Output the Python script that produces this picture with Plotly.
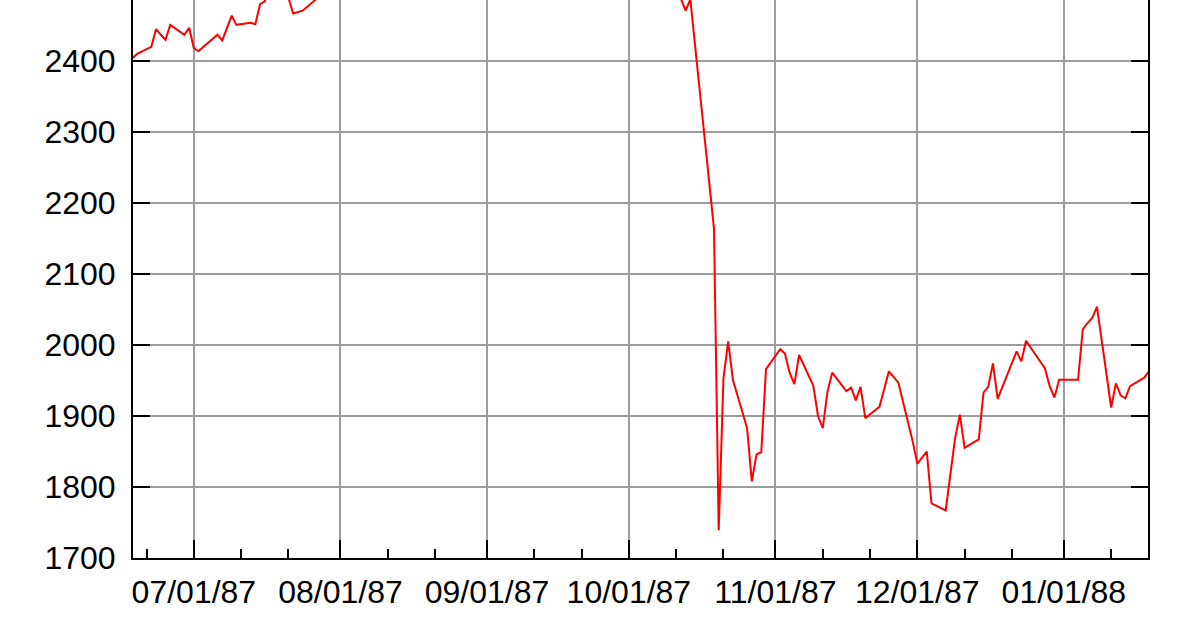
import plotly.graph_objects as go

# ---- data (DJIA daily values) ----
dates = [
    "1987-06-18", "1987-06-19", "1987-06-22", "1987-06-23", "1987-06-24", "1987-06-25",
    "1987-06-26", "1987-06-29", "1987-06-30",
    "1987-07-01", "1987-07-02", "1987-07-06", "1987-07-07", "1987-07-08", "1987-07-09",
    "1987-07-10", "1987-07-13", "1987-07-14", "1987-07-15", "1987-07-16", "1987-07-17",
    "1987-07-20", "1987-07-21", "1987-07-22", "1987-07-23", "1987-07-24", "1987-07-27",
    "1987-07-28", "1987-07-29", "1987-07-30", "1987-07-31",
    "1987-08-03", "1987-08-04", "1987-08-05", "1987-08-06", "1987-08-07", "1987-08-10",
    "1987-08-11", "1987-08-12", "1987-08-13", "1987-08-14", "1987-08-17", "1987-08-18",
    "1987-08-19", "1987-08-20", "1987-08-21", "1987-08-24", "1987-08-25", "1987-08-26",
    "1987-08-27", "1987-08-28", "1987-08-31",
    "1987-09-01", "1987-09-02", "1987-09-03", "1987-09-04", "1987-09-08", "1987-09-09",
    "1987-09-10", "1987-09-11", "1987-09-14", "1987-09-15", "1987-09-16", "1987-09-17",
    "1987-09-18", "1987-09-21", "1987-09-22", "1987-09-23", "1987-09-24", "1987-09-25",
    "1987-09-28", "1987-09-29", "1987-09-30",
    "1987-10-01", "1987-10-02", "1987-10-05", "1987-10-06", "1987-10-07", "1987-10-08",
    "1987-10-09", "1987-10-12", "1987-10-13", "1987-10-14", "1987-10-15", "1987-10-16",
    "1987-10-19", "1987-10-20", "1987-10-21", "1987-10-22", "1987-10-23", "1987-10-26",
    "1987-10-27", "1987-10-28", "1987-10-29", "1987-10-30",
    "1987-11-02", "1987-11-03", "1987-11-04", "1987-11-05", "1987-11-06", "1987-11-09",
    "1987-11-10", "1987-11-11", "1987-11-12", "1987-11-13", "1987-11-16", "1987-11-17",
    "1987-11-18", "1987-11-19", "1987-11-20", "1987-11-23", "1987-11-24", "1987-11-25",
    "1987-11-27", "1987-11-30",
    "1987-12-01", "1987-12-02", "1987-12-03", "1987-12-04", "1987-12-07", "1987-12-08",
    "1987-12-09", "1987-12-10", "1987-12-11", "1987-12-14", "1987-12-15", "1987-12-16",
    "1987-12-17", "1987-12-18", "1987-12-21", "1987-12-22", "1987-12-23", "1987-12-24",
    "1987-12-28", "1987-12-29", "1987-12-30", "1987-12-31",
    "1988-01-04", "1988-01-05", "1988-01-06", "1988-01-07", "1988-01-08", "1988-01-11",
    "1988-01-12", "1988-01-13", "1988-01-14", "1988-01-15", "1988-01-18", "1988-01-19",
]
djia = [
    2404, 2410, 2420, 2445, 2437, 2430,
    2451, 2437, 2447,
    2418, 2414, 2437, 2429, 2446, 2464,
    2451, 2454, 2452, 2480, 2484, 2510,
    2500, 2489, 2467, 2469, 2471, 2488,
    2520, 2540, 2567, 2572,
    2557, 2546, 2566, 2594, 2592, 2635,
    2680, 2669, 2691, 2685, 2700, 2654,
    2665, 2706, 2710, 2697, 2722, 2701,
    2676, 2639, 2663,
    2610, 2602, 2599, 2561, 2545, 2549,
    2576, 2608, 2613, 2566, 2530, 2527,
    2524, 2493, 2568, 2585, 2566, 2570,
    2601, 2590, 2596,
    2639, 2641, 2640, 2549, 2552, 2517,
    2520, 2488, 2471, 2487, 2422, 2358,
    2164, 1739, 1953, 2005, 1951, 1883,
    1808, 1846, 1849, 1966,
    1994, 1988, 1961, 1945, 1986, 1943,
    1900, 1883, 1934, 1961, 1935, 1940,
    1922, 1941, 1897, 1913, 1938, 1963,
    1947, 1865,
    1833, 1841, 1850, 1777, 1767, 1818,
    1869, 1902, 1855, 1867, 1933, 1941,
    1974, 1924, 1975, 1991, 1977, 2006,
    1967, 1942, 1926, 1951,
    1951, 2022, 2031, 2038, 2054, 1912,
    1946, 1929, 1925, 1942, 1954, 1963,
]

month_ticks = ["1987-07-01", "1987-08-01", "1987-09-01", "1987-10-01",
               "1987-11-01", "1987-12-01", "1988-01-01"]
month_labels = ["07/01/87", "08/01/87", "09/01/87", "10/01/87",
                "11/01/87", "12/01/87", "01/01/88"]
minor_ticks = ["1987-06-21", "1987-07-11", "1987-07-21", "1987-08-11", "1987-08-21",
               "1987-09-11", "1987-09-21", "1987-10-11", "1987-10-21", "1987-11-11",
               "1987-11-21", "1987-12-11", "1987-12-21", "1988-01-11"]
y_ticks = [1700, 1800, 1900, 2000, 2100, 2200, 2300, 2400]
y_labels = ["1700", "1800", "1900", "2000", "2100", "2200", "2300", "2400"]

x_range = ["1987-06-18 03:00", "1988-01-18 19:00"]
y_range = [1700, 2486]

fig = go.Figure()
fig.add_trace(go.Scatter(
    x=dates, y=djia, mode="lines",
    line=dict(color="#ff0000", width=2),
    hoverinfo="x+y",
))

fig.update_layout(
    width=1200, height=630,
    margin=dict(l=133, r=52, t=0, b=72, pad=0),
    paper_bgcolor="white", plot_bgcolor="white",
    showlegend=False,
    font=dict(family="Liberation Sans, Arial, sans-serif", size=32, color="black"),
)

fig.update_xaxes(
    type="date", range=x_range, automargin=False,
    tickmode="array", tickvals=month_ticks, ticktext=month_labels,
    ticks="inside", ticklen=18, tickwidth=2, tickcolor="black",
    ticklabelstandoff=5,
    showgrid=True, gridcolor="#9c9c9c", gridwidth=2,
    showline=True, linecolor="black", linewidth=2, mirror=False,
    zeroline=False,
    minor=dict(tickvals=minor_ticks, ticks="inside", ticklen=9, tickwidth=2,
               tickcolor="black", showgrid=False),
)
fig.update_yaxes(
    range=y_range, automargin=False,
    tickmode="array", tickvals=y_ticks, ticktext=y_labels,
    ticks="inside", ticklen=17, tickwidth=2, tickcolor="black",
    ticklabelstandoff=9,
    showgrid=True, gridcolor="#9c9c9c", gridwidth=2,
    showline=True, linecolor="black", linewidth=2, mirror="ticks",
    zeroline=False,
)

fig.write_html("out.html", config={"displayModeBar": False},
               post_script="document.body.style.margin='0px';")
